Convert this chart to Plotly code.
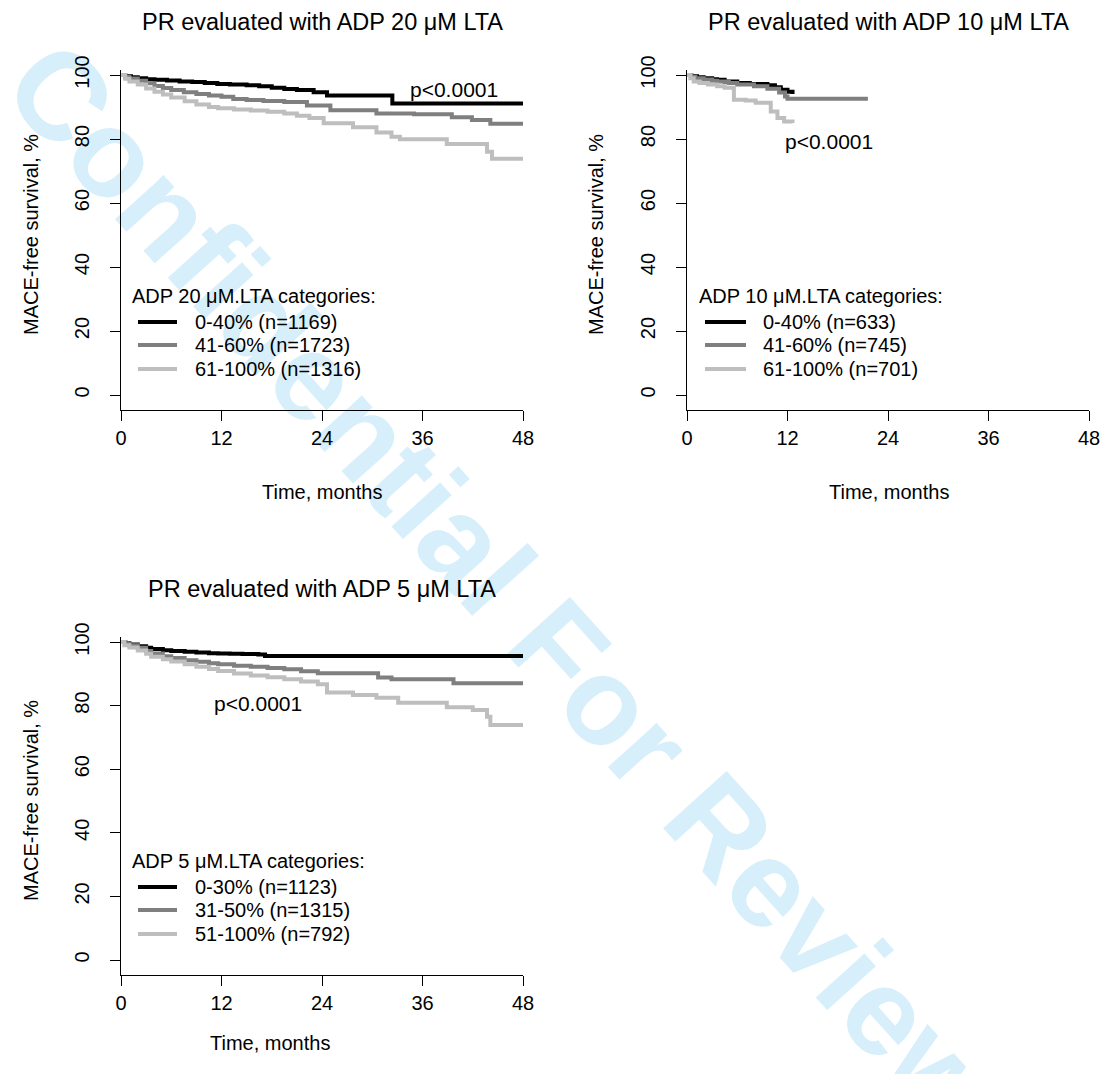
import plotly.graph_objects as go

W, H = 1107, 1074
FONT = "Arial, Liberation Sans, sans-serif"

# ---------------- data ----------------
month_ticks = [0, 12, 24, 36, 48]
surv_ticks = [0, 20, 40, 60, 80, 100]

titles = ["PR evaluated with ADP 20 \u03bcM LTA",
          "PR evaluated with ADP 10 \u03bcM LTA",
          "PR evaluated with ADP 5 \u03bcM LTA"]
legend_titles = ["ADP 20 \u03bcM.LTA categories:",
                 "ADP 10 \u03bcM.LTA categories:",
                 "ADP 5 \u03bcM.LTA categories:"]
labels_adp20 = ["0-40% (n=1169)", "41-60% (n=1723)", "61-100% (n=1316)"]
labels_adp10 = ["0-40% (n=633)", "41-60% (n=745)", "61-100% (n=701)"]
labels_adp5 = ["0-30% (n=1123)", "31-50% (n=1315)", "51-100% (n=792)"]
p_text = "p<0.0001"
x_title = "Time, months"
y_title = "MACE-free survival, %"
watermark = "Confidential For Review"

# ADP 20 uM LTA
adp20_low_t = [0, 0.5, 1.2, 2, 3, 4, 5.5, 7, 8.5, 10, 11.5, 13, 15, 16.5, 18, 19.5, 21, 23, 24.6, 32.4, 48]
adp20_low_s = [100, 99.6, 99.3, 99.0, 98.7, 98.5, 98.3, 98.0, 97.8, 97.5, 97.2, 97.0, 96.8, 96.5, 96.0, 95.6, 95.3, 94.6, 93.6, 91.1, 91.1]
adp20_mid_t = [0, 0.5, 1, 2, 3, 4, 5, 6, 7.5, 9, 10.5, 12, 13.4, 15, 17, 19.5, 22.2, 25, 30.5, 35, 39.5, 41.9, 44.1, 48]
adp20_mid_s = [100, 99.4, 98.9, 98.2, 97.4, 96.6, 95.9, 95.3, 94.6, 94.1, 93.6, 93.2, 92.5, 92.2, 91.9, 91.6, 90.5, 89.0, 88.0, 87.7, 86.8, 85.9, 84.8, 84.8]
adp20_high_t = [0, 0.5, 1, 2, 3, 4, 5, 6, 7.6, 9, 10.5, 11.6, 13.5, 15.5, 17.5, 19.5, 21, 22.5, 24.2, 27.7, 30.5, 32.3, 33.3, 38.9, 43.7, 44.3, 48]
adp20_high_s = [100, 98.8, 98.0, 97.0, 95.8, 94.8, 93.9, 93.0, 91.8, 90.8, 90.0, 89.6, 89.2, 88.9, 88.5, 88.0, 87.3, 86.6, 84.9, 83.7, 82.0, 80.7, 79.9, 78.4, 76.0, 73.8, 73.8]

# ADP 10 uM LTA
adp10_low_t = [0, 0.5, 1.2, 2, 3, 3.6, 4.5, 6, 7.5, 9.6, 10.5, 11.2, 12, 12.6]
adp10_low_s = [100, 99.6, 99.3, 99.0, 98.7, 98.5, 98.0, 97.5, 97.2, 96.8, 96.2, 95.4, 94.8, 94.1]
adp10_mid_t = [0, 0.5, 1, 2, 3, 3.6, 5, 6, 8, 9.6, 11, 11.7, 12.0, 21.6]
adp10_mid_s = [100, 99.4, 99.0, 98.6, 98.2, 98.0, 97.5, 97.0, 96.5, 95.7, 94.5, 93.3, 92.6, 92.6]
adp10_high_t = [0, 0.4, 0.8, 1.5, 2.5, 3.6, 4.5, 5.6, 7, 8.2, 10.0, 10.8, 11.6, 12.6]
adp10_high_s = [100, 99.0, 98.0, 97.5, 97.0, 96.5, 96.0, 92.3, 92.0, 91.3, 88.6, 86.6, 85.5, 85.0]

# ADP 5 uM LTA
adp5_low_t = [0, 0.5, 1, 2, 3, 3.6, 5, 6, 7.6, 9, 10.5, 11.6, 13, 14.5, 16.4, 17.2, 48]
adp5_low_s = [100, 99.6, 99.2, 98.7, 98.2, 97.8, 97.4, 97.2, 96.9, 96.7, 96.5, 96.4, 96.3, 96.2, 96.1, 95.6, 95.6]
adp5_mid_t = [0, 0.5, 1, 2, 3, 3.6, 5, 6, 7.6, 9, 10.5, 11.6, 13.5, 15.5, 17.5, 19.5, 21.5, 23.5, 30.7, 32.3, 39.7, 48]
adp5_mid_s = [100, 99.5, 99.0, 98.2, 97.2, 96.4, 95.5, 95.0, 94.3, 93.8, 93.3, 93.0, 92.5, 92.2, 91.8, 91.4, 90.8, 90.2, 88.8, 88.3, 87.0, 87.0]
adp5_high_t = [0, 0.4, 1, 2, 3, 3.6, 5, 6, 7.6, 9, 10.5, 11.6, 13.5, 15.5, 17.5, 19.5, 21.5, 23.5, 24.6, 27.7, 30.5, 33.1, 38.9, 42, 43.7, 44.1, 48]
adp5_high_s = [100, 99.0, 98.3, 97.3, 96.3, 95.4, 94.6, 93.9, 93.0, 92.2, 91.5, 90.9, 90.1, 89.5, 88.9, 88.3, 87.6, 86.7, 84.1, 83.3, 82.5, 80.9, 79.5, 78.6, 76.5, 73.9, 73.9]

colors = ["#000000", "#7f7f7f", "#bebebe"]

series = [
    [(adp20_low_t, adp20_low_s), (adp20_mid_t, adp20_mid_s), (adp20_high_t, adp20_high_s)],
    [(adp10_low_t, adp10_low_s), (adp10_mid_t, adp10_mid_s), (adp10_high_t, adp10_high_s)],
    [(adp5_low_t, adp5_low_s), (adp5_mid_t, adp5_mid_s), (adp5_high_t, adp5_high_s)],
]
labels = [labels_adp20, labels_adp10, labels_adp5]

# ---------------- layout geometry (pixels) ----------------
def fx(px):
    return px / W


def fy(py):
    return 1 - py / H


YLO, YHI = -4.7, 101.5
geo = [
    dict(x0=121, x1=523, y100=75, y0=395, ytitle_x=31, xtitle=(322, 492),
         p=(408, 89), leg=(130, 138, 177, 193)),
    dict(x0=687, x1=1089, y100=75, y0=395, ytitle_x=596, xtitle=(889, 492),
         p=(783, 141), leg=(697, 705, 746, 761)),
    dict(x0=121, x1=523, y100=642, y0=960, ytitle_x=31, xtitle=(270, 1043),
         p=(212, 703), leg=(130, 138, 177, 193)),
]

fig = go.Figure()

for i, g in enumerate(geo):
    sfx = "" if i == 0 else str(i + 1)
    ppu = (g["y0"] - g["y100"]) / 100.0
    top_px = g["y100"] - (YHI - 100) * ppu
    bot_px = g["y0"] - YLO * ppu
    axis_common = dict(showline=True, linecolor="black", linewidth=1,
                       ticks="outside", ticklen=10, tickwidth=1, tickcolor="black",
                       showgrid=False, zeroline=False, automargin=False,
                       tickfont=dict(size=20, color="black", family=FONT))
    fig.update_layout(**{
        "xaxis" + sfx: dict(domain=[fx(g["x0"]), fx(g["x1"])], range=[0, 48],
                            tickmode="array", tickvals=month_ticks,
                            anchor="y" + sfx, ticklabelstandoff=0, **axis_common),
        "yaxis" + sfx: dict(domain=[fy(bot_px), fy(top_px)], range=[YLO, YHI],
                            tickmode="array", tickvals=surv_ticks, tickangle=-90,
                            anchor="x" + sfx, ticklabelstandoff=13, **axis_common),
    })
    for k, (t, s) in enumerate(series[i]):
        fig.add_trace(go.Scatter(x=t, y=s, mode="lines",
                                 line=dict(color=colors[k], width=4, shape="hv"),
                                 xaxis="x" + sfx, yaxis="y" + sfx,
                                 name=labels[i][k], showlegend=False,
                                 hoverinfo="skip"))

    def txt(text, px, py, size, xanchor="left", angle=0):
        fig.add_annotation(text=text, x=fx(px), y=fy(py), xref="paper", yref="paper",
                           xanchor=xanchor, yanchor="middle", showarrow=False,
                           textangle=angle,
                           font=dict(size=size, color="black", family=FONT))

    # title
    txt(titles[i], (g["x0"] + g["x1"]) / 2, g["y100"] - 53, 23.5, "center")
    # axis titles
    txt(x_title, g["xtitle"][0], g["xtitle"][1], 20, "center")
    txt(y_title, g["ytitle_x"], (g["y100"] + g["y0"]) / 2, 20, "center", -90)
    # p value
    txt(p_text, g["p"][0], g["p"][1], 21)
    # legend
    lx, l0, l1, ltx = g["leg"]
    txt(legend_titles[i], lx, g["y0"] - 99, 20)
    for k, off in enumerate([73, 50, 26]):
        yy = g["y0"] - off
        fig.add_shape(type="line", xref="paper", yref="paper",
                      x0=fx(l0), x1=fx(l1), y0=fy(yy), y1=fy(yy),
                      line=dict(color=colors[k], width=4))
        txt(labels[i][k], ltx, yy, 20)

# watermark (behind everything)
cx, cy = 512, 578
fig.add_shape(type="rect", xref="paper", yref="paper",
              x0=fx(cx) - 0.05, x1=fx(cx) + 0.05, y0=fy(cy) - 0.05, y1=fy(cy) + 0.05,
              line=dict(width=0), fillcolor="rgba(0,0,0,0)", layer="below",
              label=dict(text=watermark, textangle=48, textposition="middle center",
                         font=dict(size=124, color="#d6effb", family=FONT, weight="bold")))

fig.update_layout(width=W, height=H, margin=dict(l=0, r=0, t=0, b=0, autoexpand=False),
                  paper_bgcolor="white", plot_bgcolor="rgba(0,0,0,0)",
                  showlegend=False)

fig.write_html("out.html")
